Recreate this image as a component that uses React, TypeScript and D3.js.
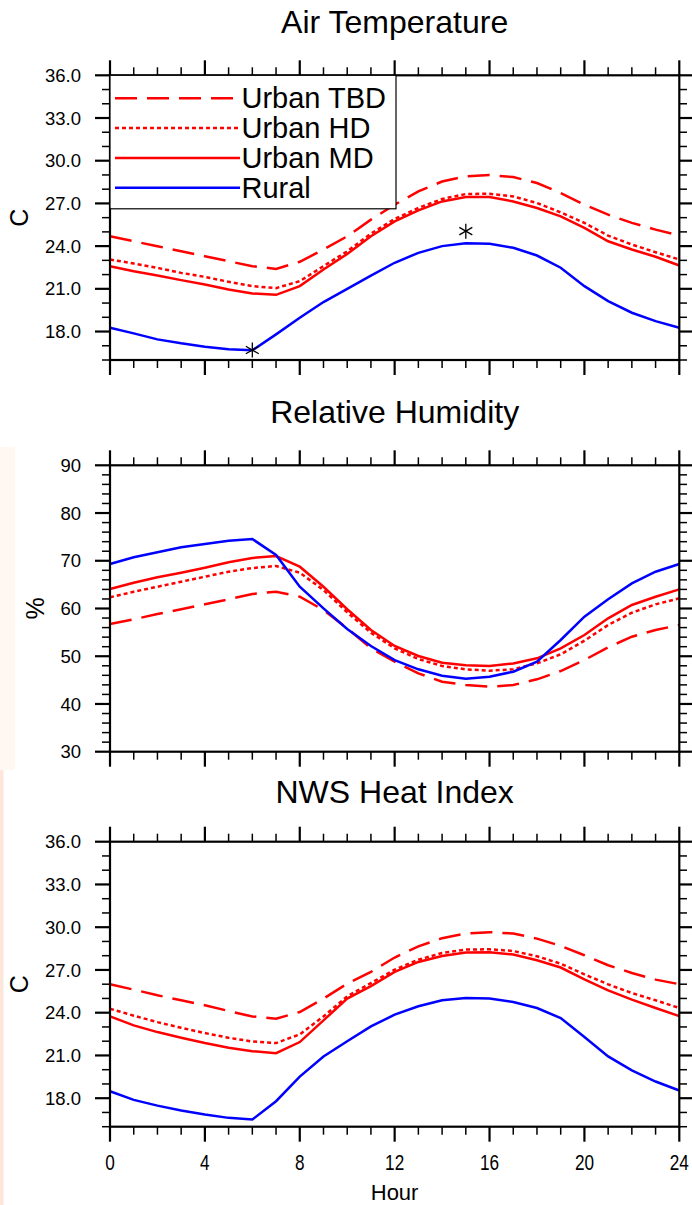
import React from "react";
import * as d3 from "d3";

// hours 0..24
const hours = d3.range(0, 25);

// air temperature (C)
const tbdTemp = [24.69, 24.34, 23.99, 23.64, 23.29, 22.94, 22.59, 22.4, 22.9, 23.76, 24.69, 25.86, 26.91, 27.84, 28.54, 28.9, 28.99, 28.85, 28.43, 27.73, 26.91, 26.21, 25.63, 25.16, 24.74];
const hdTemp = [23.06, 22.78, 22.47, 22.12, 21.84, 21.49, 21.19, 21.05, 21.54, 22.59, 23.64, 24.88, 25.91, 26.68, 27.31, 27.66, 27.68, 27.49, 27.03, 26.37, 25.63, 24.74, 24.11, 23.57, 23.06];
const mdTemp = [22.59, 22.24, 21.94, 21.61, 21.31, 20.95, 20.67, 20.58, 21.19, 22.36, 23.45, 24.69, 25.74, 26.51, 27.14, 27.45, 27.45, 27.14, 26.68, 26.09, 25.28, 24.34, 23.76, 23.25, 22.64];
const ruralTemp = [18.27, 17.87, 17.45, 17.17, 16.93, 16.75, 16.68, 17.8, 18.97, 20.07, 21.0, 21.93, 22.83, 23.53, 24.0, 24.2, 24.16, 23.88, 23.34, 22.48, 21.19, 20.14, 19.32, 18.73, 18.27];

// relative humidity (%)
const tbdRh = [56.75, 57.73, 58.85, 59.83, 60.88, 61.92, 63.03, 63.52, 62.47, 59.68, 55.85, 51.66, 48.85, 46.42, 44.66, 43.97, 43.62, 43.97, 45.16, 46.9, 49.2, 51.87, 54.09, 55.5, 56.54];
const hdRh = [62.34, 63.52, 64.56, 65.61, 66.66, 67.71, 68.48, 68.9, 67.5, 63.87, 59.2, 54.93, 51.66, 49.42, 47.95, 47.26, 46.97, 47.26, 48.5, 50.4, 53.26, 56.54, 59.12, 60.87, 62.13];
const mdRh = [64.08, 65.41, 66.53, 67.5, 68.55, 69.67, 70.58, 71.0, 68.76, 64.56, 59.85, 55.5, 52.14, 50.05, 48.65, 48.1, 47.95, 48.5, 49.56, 51.66, 54.45, 57.94, 60.73, 62.47, 64.0];
const ruralRh = [69.32, 70.72, 71.77, 72.82, 73.51, 74.2, 74.56, 71.2, 64.56, 60.03, 55.7, 52.14, 49.2, 47.26, 45.92, 45.29, 45.71, 46.76, 48.85, 53.4, 58.28, 61.92, 65.27, 67.71, 69.32];

// NWS heat index (C)
const tbdHi = [26.0, 25.62, 25.22, 24.87, 24.52, 24.12, 23.74, 23.58, 24.05, 24.99, 26.04, 26.86, 27.87, 28.66, 29.23, 29.56, 29.65, 29.56, 29.2, 28.69, 28.03, 27.33, 26.79, 26.32, 26.0];
const hdHi = [24.28, 23.79, 23.34, 22.94, 22.57, 22.24, 21.98, 21.87, 22.48, 23.74, 25.15, 26.08, 27.02, 27.72, 28.19, 28.43, 28.45, 28.33, 27.96, 27.44, 26.69, 25.99, 25.38, 24.87, 24.33];
const mdHi = [23.74, 23.11, 22.64, 22.24, 21.87, 21.54, 21.3, 21.16, 21.94, 23.46, 24.99, 25.87, 26.86, 27.56, 27.98, 28.22, 28.24, 28.08, 27.68, 27.17, 26.34, 25.57, 24.92, 24.33, 23.76];
const ruralHi = [18.49, 17.88, 17.48, 17.13, 16.85, 16.62, 16.5, 17.79, 19.52, 20.93, 22.0, 23.04, 23.86, 24.45, 24.87, 25.03, 24.99, 24.75, 24.33, 23.62, 22.29, 20.93, 19.95, 19.17, 18.54];

// asterisks on the air temperature panel
const starHours = [6, 15];
const starTemps = [16.7, 25.05];

const legendNames = ["Urban TBD", "Urban HD", "Urban MD", "Rural"];
const xTickLabels = ["0", "4", "8", "12", "16", "20", "24"];

const styles = [
  { color: "#ff0000", dash: "22,10" },
  { color: "#ff0000", dash: "4,3" },
  { color: "#ff0000", dash: null },
  { color: "#0000ff", dash: null },
];

const FONT = "'Liberation Sans', Arial, Helvetica, sans-serif";
const x = d3.scaleLinear().domain([0, 24]).range([110, 679.3]);

function Panel({ top, bottom, domain, majors, minors, fmt, ylabel, ylabelX, title, titleY, series, xlabels, legend, stars }) {
  const y = d3.scaleLinear().domain(domain).range([bottom, top]);
  const line = d3
    .line<number>()
    .x((d, i) => x(hours[i]))
    .y((d) => y(d));

  const xMaj = d3.range(0, 25, 4);
  const xMin = d3.range(0, 25, 1).filter((h) => h % 4 !== 0);
  const yMin = minors.filter((v) => majors.indexOf(v) < 0);

  return (
    <g>
      <text x={(110 + 679.3) / 2} y={titleY} textAnchor="middle" fontSize={32} fontFamily={FONT}>
        {title}
      </text>

      {/* x ticks, top and bottom, outward */}
      {xMaj.map((h) => (
        <g key={"xM" + h} stroke="#000" strokeWidth={2.2}>
          <line x1={x(h)} x2={x(h)} y1={top} y2={top - 15} />
          <line x1={x(h)} x2={x(h)} y1={bottom} y2={bottom + 15} />
        </g>
      ))}
      {xMin.map((h) => (
        <g key={"xm" + h} stroke="#000" strokeWidth={1.5}>
          <line x1={x(h)} x2={x(h)} y1={top} y2={top - 8} />
          <line x1={x(h)} x2={x(h)} y1={bottom} y2={bottom + 8} />
        </g>
      ))}

      {/* y ticks, left and right, outward */}
      {majors.map((v) => (
        <g key={"yM" + v} stroke="#000" strokeWidth={2.2}>
          <line x1={110} x2={95} y1={y(v)} y2={y(v)} />
          <line x1={679.3} x2={694} y1={y(v)} y2={y(v)} />
        </g>
      ))}
      {yMin.map((v) => (
        <g key={"ym" + v} stroke="#000" strokeWidth={1.5}>
          <line x1={110} x2={102} y1={y(v)} y2={y(v)} />
          <line x1={679.3} x2={687} y1={y(v)} y2={y(v)} />
        </g>
      ))}
      {majors.map((v) => (
        <text key={"yl" + v} x={81} y={y(v)} dy="0.36em" textAnchor="end" fontSize={18.5} fontFamily={FONT}>
          {fmt(v)}
        </text>
      ))}
      <text
        transform={`translate(${ylabelX},${(top + bottom) / 2}) rotate(-90)`}
        textAnchor="middle"
        fontSize={25}
        fontFamily={FONT}
      >
        {ylabel}
      </text>

      {series.map((s, i) => (
        <path
          key={"s" + i}
          d={line(s)}
          fill="none"
          stroke={styles[i].color}
          strokeWidth={2.5}
          strokeDasharray={styles[i].dash || undefined}
        />
      ))}

      {stars &&
        stars.h.map((h, i) => {
          const cx = x(h);
          const cy = y(stars.v[i]);
          return (
            <g key={"st" + i} stroke="#000" strokeWidth={1.3}>
              {[90, 30, -30].map((a) => {
                const r = 7.5;
                const dx = Math.cos((a * Math.PI) / 180) * r;
                const dy = Math.sin((a * Math.PI) / 180) * r;
                return <line key={a} x1={cx - dx} y1={cy - dy} x2={cx + dx} y2={cy + dy} />;
              })}
            </g>
          );
        })}

      <rect x={110} y={top} width={569.3} height={bottom - top} fill="none" stroke="#000" strokeWidth={2.2} />

      {legend && (
        <g>
          <rect x={110} y={top} width={286} height={133.5} fill="#fff" stroke="#000" strokeWidth={1.2} />
          {legendNames.map((n, i) => {
            const ly = top + 23 + i * 29.8;
            return (
              <g key={n}>
                <line
                  x1={115}
                  x2={240}
                  y1={ly}
                  y2={ly}
                  stroke={styles[i].color}
                  strokeWidth={2.5}
                  strokeDasharray={styles[i].dash || undefined}
                />
                <text x={241.5} y={ly + 10} fontSize={29} fontFamily={FONT}>
                  {n}
                </text>
              </g>
            );
          })}
        </g>
      )}

      {xlabels &&
        xTickLabels.map((t, i) => (
          <text
            key={"xl" + t}
            transform={`translate(${x(xMaj[i])},1170) scale(0.78,1)`}
            textAnchor="middle"
            fontSize={22}
            fontFamily={FONT}
          >
            {t}
          </text>
        ))}
    </g>
  );
}

export default function App() {
  return (
    <svg
      width={692}
      height={1205}
      style={{ position: "absolute", left: 0, top: 0, background: "#fff" }}
    >
      <rect x={0} y={0} width={692} height={1205} fill="#fff" />
      {/* faint tinted strip along the left edge */}
      <rect x={0} y={447} width={15} height={323} fill="#fff7f1" />
      <rect x={0} y={770} width={3.5} height={435} fill="#fde6da" />

      <Panel
        top={75.3}
        bottom={360}
        domain={[16, 36]}
        majors={d3.range(18, 36.5, 3)}
        minors={d3.range(16, 36.5, 1)}
        fmt={d3.format(".1f")}
        ylabel="C"
        ylabelX={28}
        title="Air Temperature"
        titleY={33}
        series={[tbdTemp, hdTemp, mdTemp, ruralTemp]}
        legend
        stars={{ h: starHours, v: starTemps }}
      />
      <Panel
        top={465.3}
        bottom={751.7}
        domain={[30, 90]}
        majors={d3.range(30, 91, 10)}
        minors={d3.range(30, 91, 2)}
        fmt={d3.format("d")}
        ylabel="%"
        ylabelX={43.5}
        title="Relative Humidity"
        titleY={423}
        series={[tbdRh, hdRh, mdRh, ruralRh]}
      />
      <Panel
        top={841.7}
        bottom={1126.7}
        domain={[16, 36]}
        majors={d3.range(18, 36.5, 3)}
        minors={d3.range(16, 36.5, 1)}
        fmt={d3.format(".1f")}
        ylabel="C"
        ylabelX={28}
        title="NWS Heat Index"
        titleY={803}
        series={[tbdHi, hdHi, mdHi, ruralHi]}
        xlabels
      />
      <text x={394.6} y={1200} textAnchor="middle" fontSize={22} fontFamily={FONT}>
        Hour
      </text>
    </svg>
  );
}
